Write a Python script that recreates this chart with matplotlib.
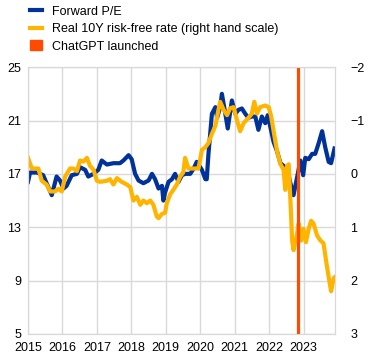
import matplotlib
matplotlib.use("Agg")
import matplotlib.pyplot as plt
from matplotlib.lines import Line2D
from matplotlib.patches import Patch

plt.rcParams['font.family'] = ['Liberation Sans', 'DejaVu Sans']

# forward P/E (left scale)
pe_years = [2015.00, 2015.06, 2015.26, 2015.44, 2015.54, 2015.69, 2015.83, 2015.93, 2016.03, 2016.12,
            2016.27, 2016.42, 2016.51, 2016.66, 2016.75, 2016.90, 2017.04, 2017.14, 2017.29, 2017.48,
            2017.67, 2017.77, 2017.92, 2018.01, 2018.11, 2018.21, 2018.35, 2018.50, 2018.60, 2018.69,
            2018.79, 2018.89, 2018.93, 2018.98, 2019.08, 2019.18, 2019.27, 2019.37, 2019.47, 2019.56,
            2019.71, 2019.81, 2019.90, 2020.05, 2020.15, 2020.19, 2020.24, 2020.34, 2020.44, 2020.49,
            2020.58, 2020.63, 2020.73, 2020.80, 2020.92, 2021.02, 2021.11, 2021.21, 2021.31, 2021.40,
            2021.50, 2021.60, 2021.69, 2021.79, 2021.89, 2021.96, 2022.03, 2022.13, 2022.23, 2022.33,
            2022.42, 2022.52, 2022.62, 2022.71, 2022.81, 2022.91, 2022.99, 2023.05, 2023.15, 2023.25,
            2023.34, 2023.44, 2023.54, 2023.63, 2023.73, 2023.80, 2023.90]
pe_values = [16.4, 17.1, 17.1, 16.9, 16.3, 15.4, 16.8, 16.5, 15.9, 16.1,
             16.9, 17.0, 17.5, 17.3, 16.8, 17.0, 17.3, 18.0, 17.7, 17.8,
             17.8, 18.0, 18.4, 18.1, 17.0, 16.5, 16.3, 16.5, 17.0, 16.6,
             15.9, 16.1, 15.0, 15.6, 16.4, 16.6, 17.0, 16.4, 16.9, 17.0,
             17.0, 17.4, 17.9, 17.3, 16.6, 16.6, 18.5, 21.5, 22.0, 21.2,
             22.0, 23.0, 21.5, 20.4, 22.5, 21.5, 21.8, 21.9, 21.5, 21.2,
             21.3, 21.3, 20.3, 21.3, 20.8, 21.4, 20.6, 19.4, 18.7, 17.8,
             17.6, 17.4, 16.3, 15.4, 16.7, 18.0, 16.9, 18.2, 18.1, 18.5,
             18.5, 19.3, 20.2, 19.0, 17.9, 17.8, 18.9]

# real 10Y risk-free rate (right scale, inverted)
rate_years = [2015.00, 2015.11, 2015.30, 2015.40, 2015.54, 2015.64, 2015.78, 2015.88, 2015.98, 2016.08,
              2016.22, 2016.32, 2016.42, 2016.51, 2016.61, 2016.71, 2016.80, 2016.90, 2017.00, 2017.09,
              2017.29, 2017.38, 2017.48, 2017.58, 2017.72, 2017.87, 2017.97, 2018.06, 2018.16, 2018.26,
              2018.35, 2018.45, 2018.55, 2018.64, 2018.74, 2018.79, 2018.89, 2018.98, 2019.03, 2019.13,
              2019.22, 2019.32, 2019.42, 2019.51, 2019.56, 2019.66, 2019.81, 2019.95, 2020.05, 2020.15,
              2020.24, 2020.34, 2020.44, 2020.53, 2020.58, 2020.68, 2020.78, 2020.87, 2020.97, 2021.07,
              2021.16, 2021.26, 2021.40, 2021.50, 2021.57, 2021.65, 2021.74, 2021.89, 2021.99, 2022.06,
              2022.15, 2022.23, 2022.33, 2022.42, 2022.47, 2022.52, 2022.57, 2022.62, 2022.67, 2022.71,
              2022.81, 2022.86, 2022.93, 2023.00, 2023.07, 2023.15, 2023.22, 2023.29, 2023.39, 2023.49,
              2023.58, 2023.66, 2023.73, 2023.80, 2023.88, 2023.92]
rate_values = [-0.30, -0.10, -0.10, 0.13, 0.20, 0.33, 0.33, 0.28, 0.33, 0.05,
               -0.10, -0.10, -0.05, -0.25, -0.23, -0.30, -0.15, -0.08, 0.13, 0.15,
               0.13, 0.10, 0.20, 0.08, 0.15, 0.20, 0.25, 0.50, 0.43, 0.58,
               0.50, 0.55, 0.50, 0.58, 0.80, 0.83, 0.75, 0.73, 0.55, 0.38,
               0.30, 0.20, 0.05, -0.03, -0.30, -0.10, -0.10, -0.10, -0.45, -0.50,
               -0.58, -0.75, -0.90, -1.20, -1.35, -1.20, -1.10, -1.23, -1.25, -1.00,
               -0.80, -0.95, -1.05, -1.13, -1.35, -1.13, -1.25, -1.28, -1.25, -1.08,
               -0.73, -0.43, -0.18, -0.08, 0.30, -0.15, -0.18, 0.50, 1.25, 1.43,
               1.13, 0.93, 1.25, 1.03, 1.28, 1.03, 0.88, 0.93, 1.15, 1.25,
               1.30, 1.65, 1.93, 2.20, 1.95, 1.93]

chatgpt_launch = 2022.85

year_ticks = list(range(2015, 2024))
left_ticks = [5, 9, 13, 17, 21, 25]
right_ticks = [-2, -1, 0, 1, 2, 3]

blue = '#003299'
yellow = '#FFB400'
orange = '#FF4B00'
grid_col = '#D9D9D9'

fig = plt.figure(figsize=(3.71, 3.61), dpi=100)
ax = fig.add_axes([0.0755, 0.075, 0.828, 0.739])
ax2 = ax.twinx()

ax.plot(pe_years, pe_values, color=blue, lw=3, solid_joinstyle='round')
ax2.plot(rate_years, rate_values, color=yellow, lw=3, solid_joinstyle='round')
ax2.axvline(chatgpt_launch, color=orange, lw=2.3)

ax.set_xlim(2015, 2023.92)
ax.set_ylim(5, 25)
ax2.set_ylim(3, -2)
ax.set_xticks(year_ticks)
ax.set_yticks(left_ticks)
ax2.set_yticks(right_ticks)
ax.set_xticklabels([str(y) for y in year_ticks])

ax.grid(True, color=grid_col, lw=1)
ax.set_axisbelow(True)
for a in (ax, ax2):
    for s in a.spines.values():
        s.set_color(grid_col)
    a.tick_params(length=0, labelsize=9, colors='black')
ax.tick_params(axis='x', pad=6)
ax.tick_params(axis='y', pad=5)
ax2.tick_params(axis='y', pad=11)

handles = [Line2D([0], [0], color=blue, lw=3),
           Line2D([0], [0], color=yellow, lw=3),
           Patch(facecolor=orange, edgecolor=orange)]
labels = ['Forward P/E', 'Real 10Y risk-free rate (right hand scale)', 'ChatGPT launched']
fig.legend(handles, labels, loc='upper left', bbox_to_anchor=(0.06, 1.005), frameon=False,
           fontsize=9, handlelength=1.0, handleheight=0.8, handletextpad=0.75,
           labelspacing=0.42, borderaxespad=0.2)

fig.savefig('out.png', dpi=100)
